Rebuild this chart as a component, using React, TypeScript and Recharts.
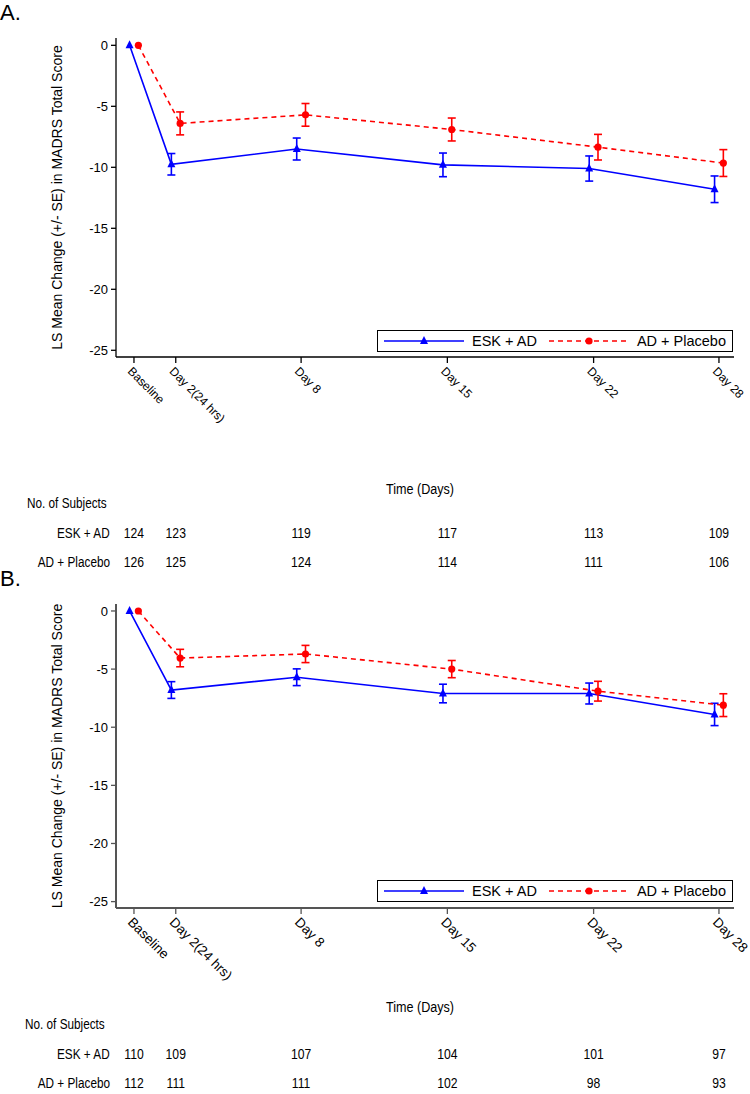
import { LineChart, Line, XAxis, YAxis, ErrorBar, Legend } from 'recharts'

const DAYS = [0, 2, 8, 15, 22, 28]
const DAY_LABELS = ['Baseline', 'Day 2(24 hrs)', 'Day 8', 'Day 15', 'Day 22', 'Day 28']
const Y_TICKS = [0, -5, -10, -15, -20, -25]

// panel A
const A_ESK_MEAN = [0, -9.75, -8.5, -9.8, -10.1, -11.8]
const A_ESK_SE = [null, 0.88, 0.9, 0.97, 1.03, 1.09]
const A_PBO_MEAN = [0, -6.4, -5.7, -6.9, -8.35, -9.65]
const A_PBO_SE = [null, 0.94, 0.93, 0.94, 1.05, 1.1]
const A_ESK_N = [124, 123, 119, 117, 113, 109]
const A_PBO_N = [126, 125, 124, 114, 111, 106]

// panel B
const B_ESK_MEAN = [0, -6.8, -5.7, -7.1, -7.1, -8.9]
const B_ESK_SE = [null, 0.72, 0.72, 0.8, 0.9, 0.96]
const B_PBO_MEAN = [0, -4.05, -3.7, -5.0, -6.9, -8.1]
const B_PBO_SE = [null, 0.75, 0.74, 0.74, 0.85, 0.98]
const B_ESK_N = [110, 109, 107, 104, 101, 97]
const B_PBO_N = [112, 111, 111, 102, 98, 93]

const JITTER = 0.21 // SAS offsets the two groups a little around each visit
const BLUE = '#0000ff'
const RED = '#ff0000'
const SANS = "'Liberation Sans', Arial, sans-serif"
const NARROW = 0.84 // horizontal squeeze to imitate Arial Narrow

const series = (mean: number[], se: (number | null)[], shift: number) =>
  DAYS.map((d, i) => ({ x: d + shift, y: mean[i], se: se[i] }))

const Triangle = (p: any) => {
  if (p.cx == null || p.cy == null) return null
  const { cx, cy } = p
  return <polygon points={`${cx - 4},${cy + 3} ${cx + 4},${cy + 3} ${cx},${cy - 5}`} fill={BLUE} />
}
const Circle = (p: any) => {
  if (p.cx == null || p.cy == null) return null
  return <circle cx={p.cx} cy={p.cy} r={3.6} fill={RED} />
}

const LegendBox = () => (
  <div style={{ border: '1px solid #000', background: '#fff', display: 'flex', alignItems: 'center', height: 20, padding: '0 6px', fontFamily: SANS, fontSize: 14.5, whiteSpace: 'nowrap' }}>
    <svg width={80} height={12}>
      <line x1={0} y1={6} x2={80} y2={6} stroke={BLUE} strokeWidth={1.6} />
      <polygon points="36,9 44,9 40,1" fill={BLUE} />
    </svg>
    <span style={{ marginLeft: 8, marginRight: 12 }}>ESK + AD</span>
    <svg width={80} height={12}>
      <line x1={0} y1={6} x2={80} y2={6} stroke={RED} strokeWidth={1.6} strokeDasharray="5 4" />
      <circle cx={40} cy={6} r={3.6} fill={RED} />
    </svg>
    <span style={{ marginLeft: 8 }}>AD + Placebo</span>
  </div>
)

const narrowDiv = (left: number | null, right: number | null, top: number, text: string) => (
  <div style={{
    position: 'absolute', left: left ?? undefined, right: right ?? undefined, top, fontFamily: SANS, fontSize: 14,
    transform: `scaleX(${NARROW})`, transformOrigin: left != null ? 'left' : 'right', whiteSpace: 'nowrap',
  }}>{text}</div>
)

interface PanelProps {
  top: number
  height: number
  axisHeight: number
  eskMean: number[]
  eskSe: (number | null)[]
  pboMean: number[]
  pboSe: (number | null)[]
  eskN: number[]
  pboN: number[]
  tickFont: number
  rowDy: [number, number]
  timeOffset: number
  frame: string
  frameWidth: number
  legendTop: number
}

function Panel(p: PanelProps) {
  const esk = series(p.eskMean, p.eskSe, -JITTER)
  const pbo = series(p.pboMean, p.pboSe, JITTER)

  const renderTick = (t: any) => {
    const i = DAYS.indexOf(t.payload.value)
    return (
      <g>
        <text transform={`translate(${t.x - 7},${t.y + 7}) rotate(45)`} fontSize={p.tickFont} fontFamily={SANS} fill="#000">
          {DAY_LABELS[i]}
        </text>
        <text transform={`translate(${t.x},${t.y + p.rowDy[0]}) scale(${NARROW},1)`} textAnchor="middle" fontSize={14.5} fontFamily={SANS} fill="#000">{p.eskN[i]}</text>
        <text transform={`translate(${t.x},${t.y + p.rowDy[1]}) scale(${NARROW},1)`} textAnchor="middle" fontSize={14.5} fontFamily={SANS} fill="#000">{p.pboN[i]}</text>
      </g>
    )
  }

  const timeLabel = (l: any) => {
    const vb = l.viewBox
    return (
      <text transform={`translate(${vb.x + vb.width / 2 - 5},${vb.y + p.timeOffset}) scale(${NARROW},1)`}
        textAnchor="middle" fontSize={15} fontFamily={SANS} fill="#000">Time (Days)</text>
    )
  }

  return (
    <div style={{ position: 'absolute', left: 0, top: p.top, width: 750, height: p.height }}>
      <LineChart width={750} height={p.height} margin={{ top: 38, right: 16, bottom: 0, left: 0 }}>
        <XAxis
          xAxisId="main" type="number" dataKey="x" domain={[-0.86, 28.72]} allowDataOverflow
          ticks={DAYS} interval={0} height={p.axisHeight} tickSize={6} tickMargin={2}
          axisLine={{ stroke: p.frame, strokeWidth: p.frameWidth }} tickLine={{ stroke: p.frame, strokeWidth: 1.3 }}
          tick={renderTick}
          label={{ content: timeLabel }}
        />
        <XAxis xAxisId="top" orientation="top" type="number" domain={[-0.86, 28.72]} height={0} tick={false} tickLine={false}
          axisLine={{ stroke: p.frame, strokeWidth: p.frameWidth }} />
        <YAxis
          yAxisId="left" type="number" domain={[-25.55, 0.6]} allowDataOverflow ticks={Y_TICKS} interval={0}
          width={116} tickSize={5} tickMargin={3}
          axisLine={{ stroke: p.frame, strokeWidth: p.frameWidth }} tickLine={{ stroke: p.frame, strokeWidth: 1.3 }}
          tick={{ fontFamily: SANS, fontSize: 13, fill: '#000' }}
          label={{ value: 'LS Mean Change (+/- SE) in MADRS Total Score', angle: -90, position: 'insideLeft', offset: 57,
            style: { textAnchor: 'middle', fontFamily: SANS, fontSize: 14, fill: '#000' } }}
        />
        <YAxis yAxisId="right" orientation="right" type="number" domain={[-25.55, 0.6]} width={0} tick={false} tickLine={false}
          axisLine={{ stroke: p.frame, strokeWidth: p.frameWidth }} />
        <Line
          xAxisId="main" yAxisId="left" data={esk} dataKey="y" name="ESK + AD" stroke={BLUE} strokeWidth={1.6}
          dot={<Triangle />} activeDot={false} isAnimationActive={false}
        >
          <ErrorBar dataKey="se" direction="y" width={4} stroke={BLUE} strokeWidth={1.6} />
        </Line>
        <Line
          xAxisId="main" yAxisId="left" data={pbo} dataKey="y" name="AD + Placebo" stroke={RED} strokeWidth={1.6}
          strokeDasharray="5 4" dot={<Circle />} activeDot={false} isAnimationActive={false}
        >
          <ErrorBar dataKey="se" direction="y" width={4} stroke={RED} strokeWidth={1.6} />
        </Line>
        <Legend
          layout="horizontal" verticalAlign="middle" align="center"
          wrapperStyle={{ left: 377, top: p.legendTop, width: 'auto', height: 'auto' }}
          content={() => <LegendBox />}
        />
      </LineChart>
    </div>
  )
}

export default function App() {
  return (
    <div style={{ position: 'absolute', left: 0, top: 0, width: 750, height: 1094, background: '#fff' }}>
      <div style={{ position: 'absolute', left: 0, top: 0, fontFamily: SANS, fontSize: 22 }}>A.</div>
      <Panel top={0} height={575} axisHeight={218} eskMean={A_ESK_MEAN} eskSe={A_ESK_SE}
        pboMean={A_PBO_MEAN} pboSe={A_PBO_SE} eskN={A_ESK_N} pboN={A_PBO_N} tickFont={12}
        rowDy={[173, 202]} timeOffset={137} frame="#000" frameWidth={1.3} legendTop={330} />
      {narrowDiv(27, null, 495, 'No. of Subjects')}
      {narrowDiv(null, 640, 525, 'ESK + AD')}
      {narrowDiv(null, 640, 554, 'AD + Placebo')}

      <div style={{ position: 'absolute', left: 0, top: 566, fontFamily: SANS, fontSize: 22 }}>B.</div>
      <Panel top={566} height={528} axisHeight={186} eskMean={B_ESK_MEAN} eskSe={B_ESK_SE}
        pboMean={B_PBO_MEAN} pboSe={B_PBO_SE} eskN={B_ESK_N} pboN={B_PBO_N} tickFont={13.5}
        rowDy={[143, 172]} timeOffset={104} frame="#555" frameWidth={2} legendTop={314} />
      {narrowDiv(25, null, 1016, 'No. of Subjects')}
      {narrowDiv(null, 640, 1046, 'ESK + AD')}
      {narrowDiv(null, 640, 1075, 'AD + Placebo')}
    </div>
  )
}
